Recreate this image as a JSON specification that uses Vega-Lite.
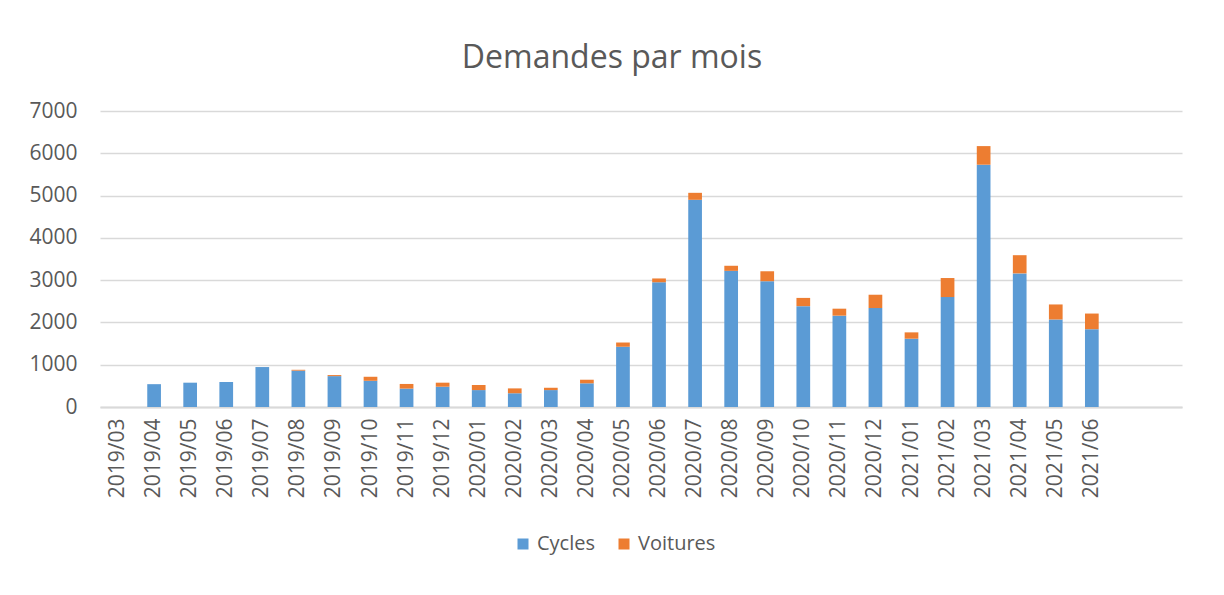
{
  "$schema": "https://vega.github.io/schema/vega-lite/v6.json",
  "autosize": {"type": "none"},
  "width": 1082,
  "height": 296,
  "padding": {"left": 100, "top": 111, "right": 42, "bottom": 188},
  "background": "white",
  "title": {
    "text": "Demandes par mois",
    "anchor": "middle",
    "frame": "group",
    "baseline": "alphabetic",
    "offset": 0,
    "dx": -29,
    "font": "Open Sans",
    "fontSize": 32,
    "fontWeight": "normal",
    "color": "#595959"
  },
  "data": {
    "values": [
      {"mois": "2019/04", "type": "Cycles", "n": 540},
      {"mois": "2019/05", "type": "Cycles", "n": 575},
      {"mois": "2019/06", "type": "Cycles", "n": 590},
      {"mois": "2019/07", "type": "Cycles", "n": 945},
      {"mois": "2019/08", "type": "Cycles", "n": 860},
      {"mois": "2019/08", "type": "Voitures", "n": 20},
      {"mois": "2019/09", "type": "Cycles", "n": 730},
      {"mois": "2019/09", "type": "Voitures", "n": 25},
      {"mois": "2019/10", "type": "Cycles", "n": 620},
      {"mois": "2019/10", "type": "Voitures", "n": 95},
      {"mois": "2019/11", "type": "Cycles", "n": 435},
      {"mois": "2019/11", "type": "Voitures", "n": 110},
      {"mois": "2019/12", "type": "Cycles", "n": 480},
      {"mois": "2019/12", "type": "Voitures", "n": 95},
      {"mois": "2020/01", "type": "Cycles", "n": 400},
      {"mois": "2020/01", "type": "Voitures", "n": 120},
      {"mois": "2020/02", "type": "Cycles", "n": 325},
      {"mois": "2020/02", "type": "Voitures", "n": 115},
      {"mois": "2020/03", "type": "Cycles", "n": 400},
      {"mois": "2020/03", "type": "Voitures", "n": 55},
      {"mois": "2020/04", "type": "Cycles", "n": 560},
      {"mois": "2020/04", "type": "Voitures", "n": 85},
      {"mois": "2020/05", "type": "Cycles", "n": 1425},
      {"mois": "2020/05", "type": "Voitures", "n": 100},
      {"mois": "2020/06", "type": "Cycles", "n": 2950},
      {"mois": "2020/06", "type": "Voitures", "n": 90},
      {"mois": "2020/07", "type": "Cycles", "n": 4900},
      {"mois": "2020/07", "type": "Voitures", "n": 165},
      {"mois": "2020/08", "type": "Cycles", "n": 3220},
      {"mois": "2020/08", "type": "Voitures", "n": 120},
      {"mois": "2020/09", "type": "Cycles", "n": 2975},
      {"mois": "2020/09", "type": "Voitures", "n": 235},
      {"mois": "2020/10", "type": "Cycles", "n": 2385},
      {"mois": "2020/10", "type": "Voitures", "n": 195},
      {"mois": "2020/11", "type": "Cycles", "n": 2160},
      {"mois": "2020/11", "type": "Voitures", "n": 165},
      {"mois": "2020/12", "type": "Cycles", "n": 2340},
      {"mois": "2020/12", "type": "Voitures", "n": 315},
      {"mois": "2021/01", "type": "Cycles", "n": 1615},
      {"mois": "2021/01", "type": "Voitures", "n": 150},
      {"mois": "2021/02", "type": "Cycles", "n": 2600},
      {"mois": "2021/02", "type": "Voitures", "n": 450},
      {"mois": "2021/03", "type": "Cycles", "n": 5730},
      {"mois": "2021/03", "type": "Voitures", "n": 440},
      {"mois": "2021/04", "type": "Cycles", "n": 3160},
      {"mois": "2021/04", "type": "Voitures", "n": 430},
      {"mois": "2021/05", "type": "Cycles", "n": 2070},
      {"mois": "2021/05", "type": "Voitures", "n": 355},
      {"mois": "2021/06", "type": "Cycles", "n": 1840},
      {"mois": "2021/06", "type": "Voitures", "n": 370}
    ]
  },
  "mark": {"type": "bar", "width": {"band": 0.38}},
  "encoding": {
    "x": {
      "field": "mois",
      "type": "nominal",
      "sort": null,
      "scale": {
        "domain": ["2019/03", "2019/04", "2019/05", "2019/06", "2019/07", "2019/08", "2019/09", "2019/10", "2019/11", "2019/12",
                   "2020/01", "2020/02", "2020/03", "2020/04", "2020/05", "2020/06", "2020/07", "2020/08", "2020/09", "2020/10", "2020/11", "2020/12",
                   "2021/01", "2021/02", "2021/03", "2021/04", "2021/05", "2021/06", "2021/07", "2021/08"],
        "paddingInner": 0,
        "paddingOuter": 0
      },
      "axis": {
        "title": null,
        "labelAngle": -90,
        "labelAlign": "right",
        "labelBaseline": "middle",
        "labelPadding": 11,
        "labelFont": "Open Sans",
        "labelFontSize": 21,
        "labelColor": "#595959",
        "labelExpr": "datum.value > '2021/06' ? '' : datum.value",
        "ticks": false,
        "domainColor": "#d9d9d9",
        "domainWidth": 2,
        "grid": false
      }
    },
    "y": {
      "field": "n",
      "type": "quantitative",
      "stack": "zero",
      "scale": {"domain": [0, 7000], "nice": false},
      "axis": {
        "title": null,
        "values": [0, 1000, 2000, 3000, 4000, 5000, 6000, 7000],
        "format": "d",
        "labelFont": "Open Sans",
        "labelFontSize": 21,
        "labelColor": "#595959",
        "labelPadding": 23,
        "ticks": false,
        "domain": false,
        "grid": true,
        "gridColor": "#d9d9d9",
        "gridWidth": 1.5
      }
    },
    "color": {
      "field": "type",
      "type": "nominal",
      "scale": {"domain": ["Cycles", "Voitures"], "range": ["#5b9bd5", "#ed7d31"]},
      "legend": {
        "title": null,
        "orient": "none",
        "direction": "horizontal",
        "legendX": 413,
        "legendY": 423,
        "symbolType": "square",
        "symbolSize": 121,
        "symbolStrokeWidth": 0,
        "labelFont": "Open Sans",
        "labelFontSize": 20,
        "labelColor": "#595959",
        "labelOffset": 4,
        "columnPadding": 18
      }
    },
    "order": {"field": "type", "sort": "ascending"}
  },
  "config": {
    "view": {"stroke": null}
  }
}
